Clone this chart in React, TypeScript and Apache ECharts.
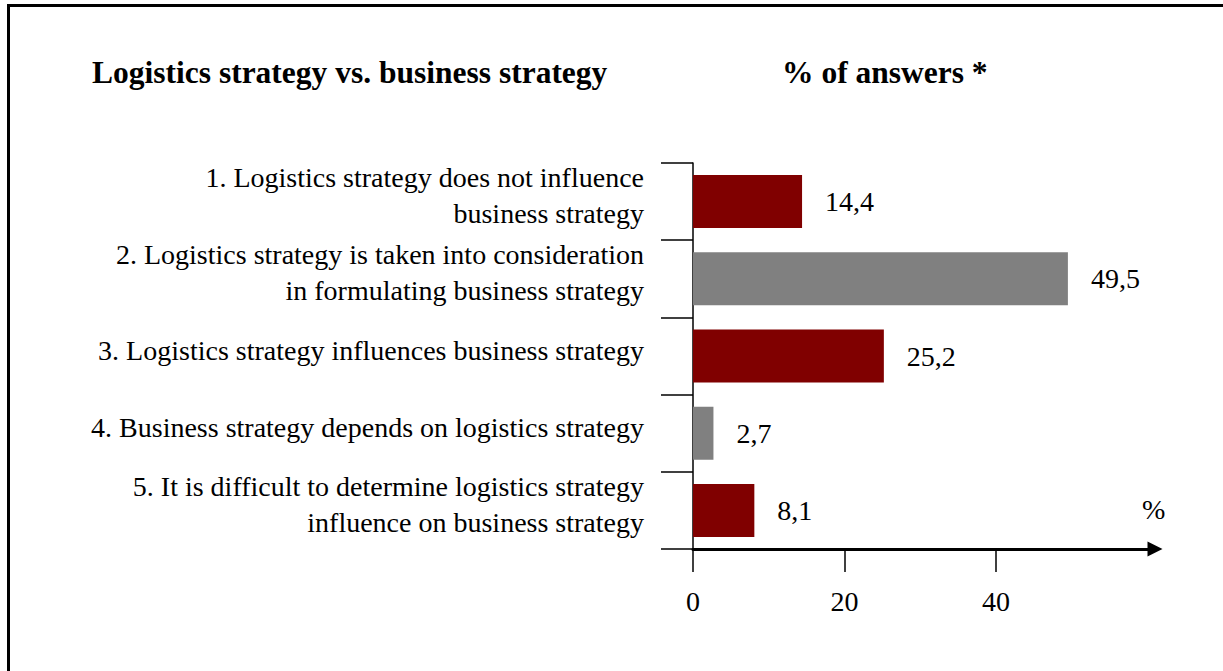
import React, { useEffect, useRef } from "react";
import * as echarts from "echarts";

const categories: string[] = [
  "1. Logistics strategy does not influence\nbusiness strategy",
  "2. Logistics strategy is taken into consideration\nin formulating business strategy",
  "3. Logistics strategy influences business strategy",
  "4. Business strategy depends on logistics strategy",
  "5. It is difficult to determine logistics strategy\ninfluence on business strategy",
];
const values: number[] = [14.4, 49.5, 25.2, 2.7, 8.1];
const barColors: string[] = ["#800000", "#808080", "#800000", "#808080", "#800000"];
const tickValues: number[] = [0, 20, 40];
const titleLeft = "Logistics strategy vs. business strategy";
const titleRight = "% of answers *";
const unitLabel = "%";

const FONT = "'Liberation Serif', 'Times New Roman', serif";

export default function App() {
  const ref = useRef<HTMLDivElement>(null);
  useEffect(() => {
    if (!ref.current) return;
    const chart = echarts.init(ref.current, null, { renderer: "svg" });
    chart.setOption({
      animation: false,
      backgroundColor: "#ffffff",
      textStyle: { fontFamily: FONT },
      title: [
        {
          text: titleLeft,
          left: 92,
          top: 56,
          padding: 0,
          textStyle: { fontFamily: FONT, fontSize: 31.5, fontWeight: "bold", color: "#000" },
        },
        {
          text: titleRight,
          left: 782,
          top: 56,
          padding: 0,
          textStyle: { fontFamily: FONT, fontSize: 31.5, fontWeight: "bold", color: "#000" },
        },
      ],
      graphic: [
        {
          type: "rect",
          shape: { x: 8.5, y: 5.5, width: 1400, height: 900 },
          style: { fill: "none", stroke: "#000", lineWidth: 3 },
          silent: true,
          z: -10,
        },
        {
          type: "text",
          x: 1142,
          y: 495,
          style: { text: unitLabel, fontFamily: FONT, fontSize: 28, fill: "#000" },
        },
      ],
      grid: [
        { left: 693, right: 68, top: 163, bottom: 122, containLabel: false },
        { left: 693, right: 68, top: 157, bottom: 128, containLabel: false },
      ],
      xAxis: [
        {
          type: "value",
          gridIndex: 0,
          min: 0,
          max: 61,
          splitLine: { show: false },
          axisLine: {
            show: true,
            lineStyle: { color: "#000", width: 3 },
            symbol: ["none", "triangle"],
            symbolSize: [15, 15],
          },
          axisTick: {
            show: true,
            length: 23,
            customValues: tickValues,
            lineStyle: { color: "#000", width: 1.5 },
          },
          axisLabel: {
            show: true,
            customValues: tickValues,
            margin: 38,
            fontFamily: FONT,
            fontSize: 28,
            color: "#000",
          },
        },
        {
          type: "value",
          gridIndex: 1,
          min: 0,
          max: 61,
          show: false,
        },
      ],
      yAxis: [
        {
          type: "category",
          gridIndex: 0,
          inverse: true,
          data: categories,
          axisLine: { show: true, lineStyle: { color: "#000", width: 1.5 } },
          axisTick: { show: true, length: 32, inside: false, lineStyle: { color: "#000", width: 1.5 } },
          axisLabel: { show: false },
        },
        {
          type: "category",
          gridIndex: 1,
          inverse: true,
          data: categories,
          axisLine: { show: false },
          axisTick: { show: false },
          splitLine: { show: false },
          axisLabel: {
            interval: 0,
            margin: 49,
            fontFamily: FONT,
            fontSize: 28,
            lineHeight: 36,
            color: "#000",
            align: "right",
          },
        },
      ],
      series: [
        {
          type: "bar",
          xAxisIndex: 0,
          yAxisIndex: 0,
          data: values.map((v, i) => ({ value: v, itemStyle: { color: barColors[i] } })),
          barWidth: 53,
          label: {
            show: true,
            position: "right",
            distance: 23,
            fontFamily: FONT,
            fontSize: 28,
            color: "#000",
            formatter: (p: any) => String(p.value).replace(".", ","),
          },
        },
      ],
    });
    return () => chart.dispose();
  }, []);
  return (
    <div
      ref={ref}
      style={{ position: "absolute", left: 0, top: 0, width: 1223, height: 671 }}
    />
  );
}
